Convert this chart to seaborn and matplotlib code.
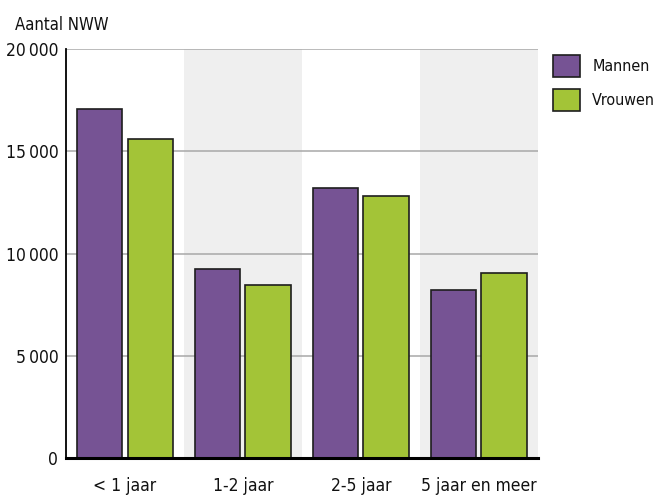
import seaborn as sns
import pandas as pd
import matplotlib.pyplot as plt
from matplotlib import font_manager
from matplotlib.patches import Patch

categories = ["< 1 jaar", "1-2 jaar", "2-5 jaar", "5 jaar en meer"]
mannen = [17100, 9250, 13230, 8230]
vrouwen = [15600, 8450, 12800, 9040]
series = ["Mannen", "Vrouwen"]
colors = ["#765394", "#A3C437"]
yticks = [0, 5000, 10000, 15000, 20000]
ytick_labels = ["0", "5\u2009000", "10\u2009000", "15\u2009000", "20\u2009000"]

sns.set_theme(style="white")

# look for a narrow face, the original uses a condensed font
narrow = None
for f in font_manager.fontManager.ttflist:
    st = f.stretch
    if (isinstance(st, str) and "condensed" in st and "extra" not in st and "ultra" not in st) \
            or (isinstance(st, int) and 300 <= st < 500):
        if f.style == "normal" and f.weight in (400, "normal", "regular"):
            narrow = f.name
            stretch = st
            break
if narrow is not None:
    plt.rcParams["font.family"] = [narrow, "DejaVu Sans"]
    plt.rcParams["font.stretch"] = stretch
    fs = 12
else:
    plt.rcParams["font.family"] = ["Liberation Sans", "DejaVu Sans"]
    fs = 11.5

df = pd.DataFrame({
    "cat": categories * 2,
    "value": mannen + vrouwen,
    "sex": [series[0]] * len(categories) + [series[1]] * len(categories),
})

fig = plt.figure(figsize=(6.56, 4.95), dpi=100)
ax = fig.add_axes([0.1006, 0.0747, 0.7195, 0.8257])

# alternating grey bands
for i in range(len(categories)):
    if i % 2 == 1:
        ax.axvspan(i - 0.5, i + 0.5, color="#efefef", zorder=0, lw=0)
for y in yticks[1:]:
    ax.axhline(y, color="#a8a8a8", lw=1.1, zorder=1)

sns.barplot(data=df, x="cat", y="value", hue="sex", palette=colors,
            width=0.85, gap=0.1, edgecolor="#1e1e1e", linewidth=1.2,
            saturation=1, legend=False, ax=ax, zorder=3)

ax.set_xlim(-0.5, 3.5)
ax.set_ylim(0, 20000)
ax.set_yticks(yticks)
ax.set_yticklabels(ytick_labels)
ax.set_xlabel("")
ax.set_ylabel("")
ax.tick_params(axis="y", length=0, pad=5.5, labelsize=fs + 0.5, colors="#111111")
ax.tick_params(axis="x", length=0, pad=14, labelsize=fs + 0.5, colors="#111111")

for s in ["top", "right"]:
    ax.spines[s].set_visible(False)
ax.spines["left"].set_color("black")
ax.spines["left"].set_linewidth(1.3)
ax.spines["bottom"].set_color("black")
ax.spines["bottom"].set_linewidth(2.2)
ax.spines["bottom"].set_zorder(5)

fig.text(0.023, 0.939, "Aantal NWW", fontsize=fs, color="#111111", va="baseline")

lfs = fs - 0.5
handles = [Patch(facecolor=c, edgecolor="#1e1e1e", lw=1.2) for c in colors]
fig.legend(handles, series, loc="upper left", bbox_to_anchor=(0.843, 0.889),
           frameon=False, fontsize=lfs, borderpad=0, borderaxespad=0,
           handlelength=1.7, handleheight=1.75, handletextpad=0.75,
           labelspacing=0.75, labelcolor="#111111")

fig.savefig("out.png", dpi=100)
